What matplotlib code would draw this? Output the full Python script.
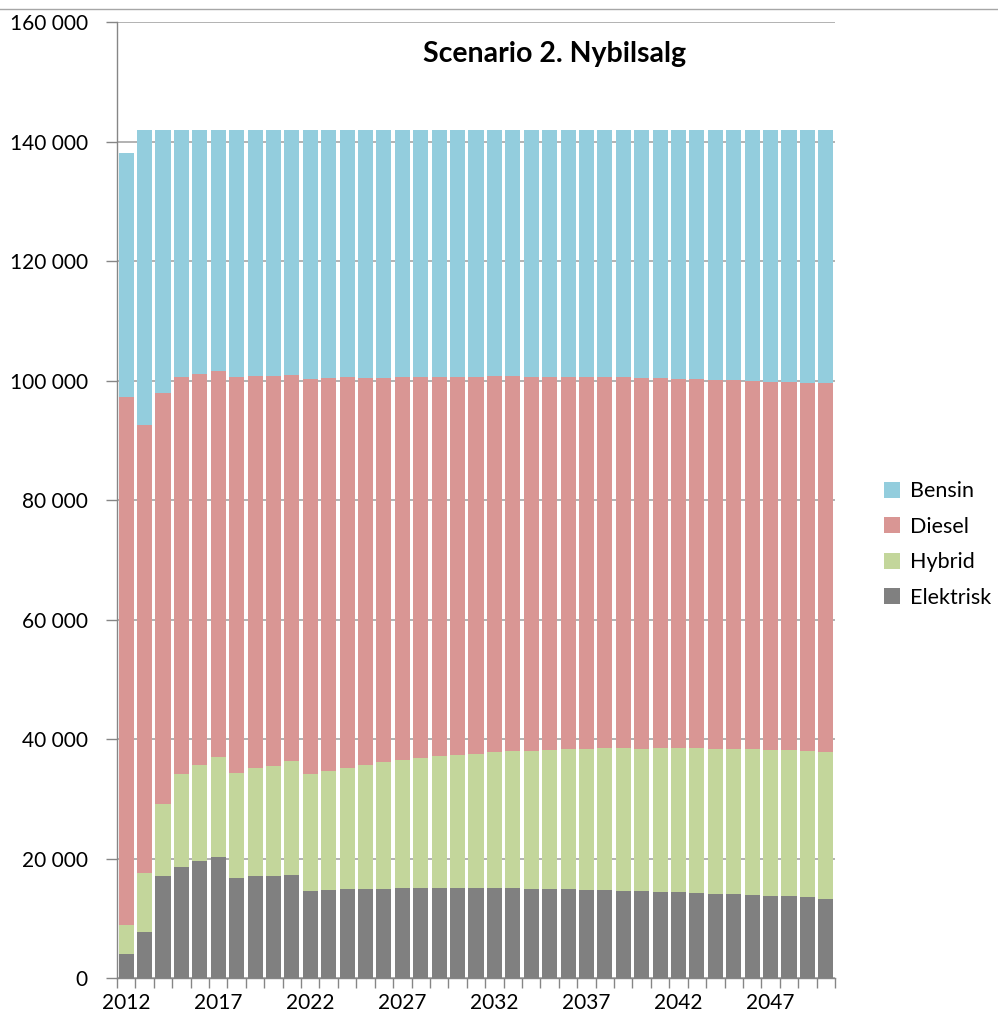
import matplotlib
matplotlib.use("Agg")
import matplotlib.pyplot as plt
from matplotlib.lines import Line2D
from matplotlib.patches import Patch
import numpy as np

plt.rcParams['font.family'] = ['Lato', 'DejaVu Sans']

years = list(range(2012, 2051))

elektrisk = [4000, 7750, 17000, 18650, 19500, 20250, 16700, 17000, 17000, 17250,
             14550, 14750, 14900, 14900, 14900, 15050, 15050, 15050, 15050, 15050,
             15050, 15050, 14900, 14900, 14900, 14750, 14750, 14550, 14550, 14400,
             14400, 14250, 14000, 14000, 13850, 13650, 13650, 13500, 13300]
hybrid = [4800, 9800, 12100, 15500, 16200, 16750, 17600, 18200, 18550, 19000,
          19600, 19900, 20300, 20800, 21200, 21400, 21750, 22100, 22250, 22500,
          22850, 23000, 23150, 23300, 23500, 23650, 23800, 24000, 23850, 24150,
          24150, 24300, 24400, 24400, 24550, 24550, 24550, 24550, 24600]
diesel = [88400, 75050, 68800, 66450, 65450, 64550, 66300, 65600, 65250, 64700,
          66100, 65750, 65400, 64700, 64300, 64150, 63800, 63450, 63300, 63050,
          62900, 62750, 62550, 62400, 62200, 62200, 62050, 62050, 62000, 61850,
          61700, 61700, 61700, 61700, 61500, 61550, 61550, 61550, 61700]
bensin = [40800, 49400, 44100, 41400, 40850, 40450, 41400, 41200, 41200, 41050,
          41750, 41600, 41400, 41600, 41600, 41400, 41400, 41400, 41400, 41400,
          41200, 41200, 41400, 41400, 41400, 41400, 41400, 41400, 41600, 41600,
          41750, 41750, 41900, 41900, 42100, 42250, 42250, 42400, 42400]

series = [("Elektrisk", elektrisk, "#808080"),
          ("Hybrid", hybrid, "#C3D69B"),
          ("Diesel", diesel, "#D99694"),
          ("Bensin", bensin, "#93CDDD")]

fig = plt.figure(figsize=(9.98, 10.16), dpi=100)
ax = fig.add_axes([0.1172, 0.0374, 0.7195, 0.9409])

x = np.arange(len(years))
bottom = np.zeros(len(years))
for name, vals, col in series:
    vals = np.array(vals, dtype=float)
    ax.bar(x, vals, width=0.82, bottom=bottom, color=col, edgecolor='none',
           zorder=3, label=name)
    bottom += vals

ax.set_xlim(-0.5, len(years) - 0.5)
ax.set_ylim(0, 160000)

yt = np.arange(0, 160001, 20000)
ax.set_yticks(yt)
ax.set_yticklabels([f"{v:,}".replace(",", " ") for v in yt], fontsize=15)
ax.yaxis.grid(True, color="#a6a6a6", linewidth=1.2, zorder=0)
ax.set_axisbelow(True)

ax.set_xticks(x[::5])
ax.set_xticklabels([str(years[i]) for i in x[::5]], fontsize=15)
ax.set_xticks(np.arange(-0.5, len(years), 1), minor=True)
ax.tick_params(axis='x', which='major', length=0, pad=11)
ax.tick_params(axis='x', which='minor', length=7, color="#868686", width=1)
ax.tick_params(axis='y', which='major', length=8, color="#868686", width=1, pad=13)

for s in ('top', 'right'):
    ax.spines[s].set_visible(False)
for s in ('left', 'bottom'):
    ax.spines[s].set_color("#868686")
    ax.spines[s].set_linewidth(1)

fig.text(0.556, 1 - 62 / 1016, "Scenario 2. Nybilsalg", ha='center', va='baseline',
         fontsize=20.5, fontweight='bold')

fig.add_artist(Line2D([0, 1], [0.991, 0.991], transform=fig.transFigure,
                      color="#a6a6a6", linewidth=1))

handles = [Patch(facecolor=c, edgecolor='none', label=n) for n, _, c in reversed(series)]
fig.legend(handles=handles, loc='center left', bbox_to_anchor=(0.886, 0.464),
           frameon=False, fontsize=15.5, handlelength=0.75, handleheight=0.75,
           handletextpad=0.45, labelspacing=0.72, borderpad=0, borderaxespad=0)

fig.savefig("out.png", dpi=100)
